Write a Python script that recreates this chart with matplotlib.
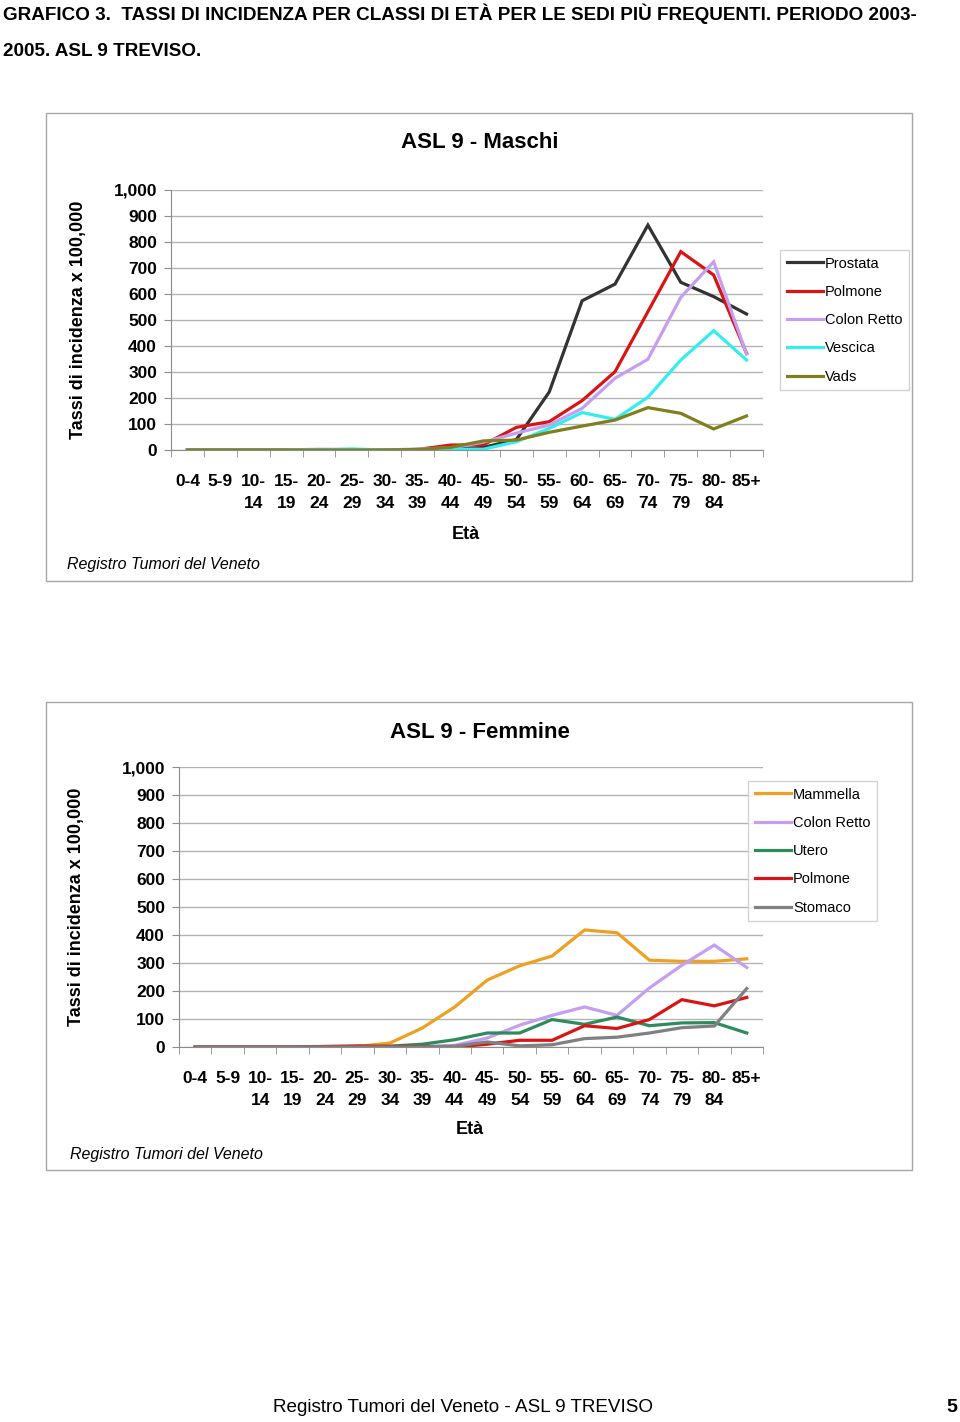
import matplotlib
matplotlib.use("Agg")
import matplotlib.pyplot as plt
from matplotlib.patches import Rectangle
from matplotlib.ticker import FixedLocator, FuncFormatter

plt.rcParams['font.family'] = ['Liberation Sans', 'DejaVu Sans']

## Data
age_labels = ["0-4", "5-9", "10-\n14", "15-\n19", "20-\n24", "25-\n29", "30-\n34", "35-\n39",
              "40-\n44", "45-\n49", "50-\n54", "55-\n59", "60-\n64", "65-\n69", "70-\n74",
              "75-\n79", "80-\n84", "85+"]

# Maschi
prostata = [0, 0, 0, 0, 0, 0, 0, 0, 2, 10, 40, 223, 574, 638, 865, 645, 590, 523]
polmone_m = [0, 0, 0, 0, 0, 0, 0, 2, 19, 20, 87, 109, 190, 301, 532, 763, 673, 372]
colon_m = [0, 0, 0, 0, 3, 2, 0, 4, 8, 30, 65, 96, 160, 276, 349, 587, 724, 369]
vescica = [0, 0, 0, 0, 0, 4, 0, 0, 3, 3, 32, 83, 144, 118, 203, 346, 459, 346]
vads = [0, 0, 0, 0, 0, 0, 0, 2, 10, 35, 38, 68, 92, 115, 163, 141, 81, 131]

# Femmine
mammella = [0, 0, 0, 0, 0, 2, 14, 68, 143, 239, 290, 325, 418, 408, 310, 306, 306, 315]
colon_f = [0, 0, 0, 0, 0, 0, 0, 2, 6, 32, 78, 113, 143, 113, 211, 292, 364, 284]
utero = [0, 0, 0, 0, 0, 0, 3, 10, 26, 50, 50, 98, 81, 107, 76, 86, 87, 50]
polmone_f = [0, 0, 0, 0, 2, 4, 2, 2, 0, 10, 24, 24, 76, 66, 98, 169, 147, 177]
stomaco = [0, 0, 0, 0, 0, 0, 0, 0, 3, 18, 4, 8, 30, 35, 50, 69, 75, 209]

W, H = 960, 1422
fig = plt.figure(figsize=(W / 100, H / 100), dpi=100)


def px_rect(left, top, right, bottom):
    return [left / W, 1 - bottom / H, (right - left) / W, (bottom - top) / H]


def panel(box, axbox, title, title_y, series, legend_xy, eta_y, reg_xy, ylab_x):
    # grey frame round the whole chart
    l, t, r, b = box
    fig.patches.append(Rectangle((l / W, 1 - b / H), (r - l) / W, (b - t) / H,
                                 transform=fig.transFigure, fill=False,
                                 edgecolor="#a6a6a6", lw=1.0))
    ax = fig.add_axes(px_rect(*axbox))
    x = list(range(len(age_labels)))
    for name, vals, col in series:
        ax.plot(x, vals, color=col, lw=2.3, label=name, solid_joinstyle="miter")
    ax.set_xlim(-0.5, len(age_labels) - 0.5)
    ax.set_ylim(0, 1000)
    ax.yaxis.set_major_locator(FixedLocator(range(0, 1001, 100)))
    ax.yaxis.set_major_formatter(FuncFormatter(lambda v, p: "{:,.0f}".format(v)))
    ax.grid(axis="y", color="#b3b3b3", lw=1.0)
    ax.set_axisbelow(True)
    for s in ["top", "right"]:
        ax.spines[s].set_visible(False)
    for s in ["left", "bottom"]:
        ax.spines[s].set_color("#8c8c8c")
    ax.set_xticks(x)
    ax.set_xticklabels(age_labels, fontsize=12.5, fontweight="bold", linespacing=1.6, va="top")
    ax.set_xticks([i - 0.5 for i in range(len(age_labels) + 1)], minor=True)
    ax.tick_params(axis="x", which="major", length=0, pad=17)
    ax.tick_params(axis="x", which="minor", length=5, color="#8c8c8c")
    ax.tick_params(axis="y", length=5, color="#8c8c8c", labelsize=12.5, pad=5)
    for lab in ax.get_yticklabels():
        lab.set_fontweight("bold")
    fig.text(480 / W, 1 - title_y / H, title, fontsize=16, fontweight="bold",
             ha="center", va="center")
    fig.text(ylab_x / W, 1 - (axbox[1] + axbox[3]) / 2 / H, "Tassi di incidenza x 100,000",
             rotation=90, fontsize=13, fontweight="bold", ha="center", va="center")
    fig.text(eta_y[0] / W, 1 - eta_y[1] / H, "Età", fontsize=13, fontweight="bold",
             ha="center", va="center")
    fig.text(reg_xy[0] / W, 1 - reg_xy[1] / H, "Registro Tumori del Veneto",
             fontsize=11.5, style="italic", ha="left", va="center")
    leg = fig.legend(loc="upper left", bbox_to_anchor=(legend_xy[0] / W, 1 - legend_xy[1] / H),
                     fontsize=10.5, frameon=True, fancybox=False, handlelength=2.5,
                     handletextpad=0.15, labelspacing=0.98, borderpad=0.45,
                     borderaxespad=0, handles=ax.get_lines())
    leg.get_frame().set_edgecolor("#c8c8c8")
    leg.get_frame().set_linewidth(1.0)
    return ax


panel((46, 113, 912, 581), (171, 190, 763, 450), "ASL 9 - Maschi", 143,
      [("Prostata", prostata, "#333333"),
       ("Polmone", polmone_m, "#d91414"),
       ("Colon Retto", colon_m, "#c49ef0"),
       ("Vescica", vescica, "#33eeee"),
       ("Vads", vads, "#7f7f1e")],
      (780, 250), (466, 534), (67, 564), 78)

panel((46, 702, 912, 1170), (179, 767, 763, 1047), "ASL 9 - Femmine", 733,
      [("Mammella", mammella, "#eea020"),
       ("Colon Retto", colon_f, "#c49ef0"),
       ("Utero", utero, "#2e8b5e"),
       ("Polmone", polmone_f, "#d91414"),
       ("Stomaco", stomaco, "#808080")],
      (748, 781), (470, 1130), (70, 1154), 77)

# page heading and footer
fig.text(3 / W, 1 - 14 / H,
         "GRAFICO 3.  TASSI DI INCIDENZA PER CLASSI DI ETÀ PER LE SEDI PIÙ FREQUENTI. PERIODO 2003-",
         fontsize=13.6, fontweight="bold", ha="left", va="center")
fig.text(3 / W, 1 - 52 / H, "2005. ASL 9 TREVISO.", fontsize=13.6, fontweight="bold",
         ha="left", va="center")
fig.text(463 / W, 1 - 1408 / H, "Registro Tumori del Veneto - ASL 9 TREVISO",
         fontsize=13.6, ha="center", va="center")
fig.text(952 / W, 1 - 1408 / H, "5", fontsize=14, fontweight="bold", ha="center", va="center")

fig.savefig("out.png", dpi=100)
